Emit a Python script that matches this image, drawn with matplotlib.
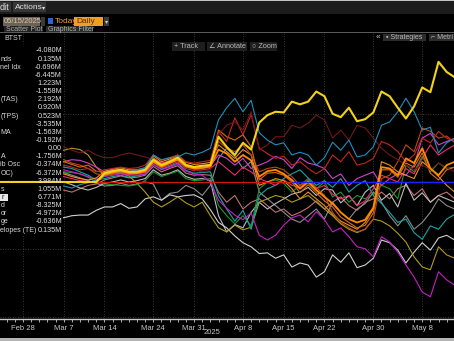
import numpy as np
import pandas as pd
import matplotlib
matplotlib.use("Agg")
import matplotlib.pyplot as plt
from matplotlib.patches import Rectangle

W, H = 454, 341
plt.rcParams['font.family'] = ['Liberation Sans', 'DejaVu Sans']

# ---- data -------------------------------------------------------------
dates = pd.bdate_range("2025-02-25", "2025-05-14")

tick_dates = ["2025-02-28", "2025-03-07", "2025-03-14", "2025-03-24", "2025-03-31",
              "2025-04-08", "2025-04-15", "2025-04-22", "2025-04-30", "2025-05-08",
              "2025-05-15"]
tick_labels = ["Feb 28", "Mar 7", "Mar 14", "Mar 24", "Mar 31", "Apr 8", "Apr 15",
               "Apr 22", "Apr 30", "May 8", "May 15"]

yellow = [0, 0, 0, 0, 0, 0, 0, 0, 0, 0, 0, 0, 0,
          1.3, 1.6, 1.8, 1.5, 1.5, 1.8, 3.3, 2.5, 3.0, 3.6, 2.5, 2.2, 2.4, 2.5,
          6.7, 5.2, 4.0, 5.8, 4.8, 8.8, 9.9, 10.4, 10.3, 11.9,
          11.5, 11.9, 13.4, 12.7, 10.1, 9.6, 11.0, 9.0, 9.3, 10.3,
          13.4, 12.7, 11.0, 9.4, 11.2, 14.0, 13.3, 17.8, 16.3, 15.5]
cyan = [0.2, 0.0, -0.3, 0.1, -0.2, -0.4, -0.6, -0.5,
        -0.6, -0.9, -0.4, -0.1, 0.3,
        0.9, 1.5, 1.5, 1.5, 1.8, 2.1, 4.0, 3.3, 3.6, 3.7, 4.3, 4.0, 4.4, 5.0,
        9.2, 11.0, 12.4, 10.4, 12.1,
        7.3, 6.2, 5.5, 5.8, 4.0,
        4.4, 4.0, 2.5, 3.6, 5.9, 4.7, 6.2, 3.7, 4.0, 5.2,
        8.4, 8.9, 10.4, 12.4, 10.4, 7.7, 8.1, 4.3, 5.8, 6.5]
maroon = [4.0, 4.5, 4.2, 4.8, 5.0, 4.6, 4.3, 4.8,
          5.2, 4.7, 4.3, 4.7, 4.0,
          3.6, 3.6, 4.0, 4.3, 4.0, 3.7, 3.3, 2.5, 3.0, 3.3, 2.1, 1.8, 1.5, 1.8,
          7.0, 8.4, 8.9, 7.7, 10.4,
          4.7, 5.5, 6.7, 6.7, 8.4,
          8.0, 8.7, 9.9, 9.2, 6.5, 7.7, 6.2, 8.4, 8.0, 6.5,
          5.0, 4.0, 3.3, 2.5, 1.8, 2.5, 1.8, 2.8, 2.1, 1.5]
red = [1.0, 1.5, 1.2, 2.0, 2.4, 2.0, 1.8, 2.2,
       2.5, 2.2, 1.8, 2.0, 1.5,
       1.8, 2.0, 2.2, 2.0, 2.1, 2.5, 4.0, 3.2, 3.6, 4.0, 3.0, 2.8, 3.0, 3.2,
       7.5, 6.0, 9.5, 7.0, 10.0,
       5.0, 4.2, 3.5, 3.8, 2.5,
       3.0, 2.0, 1.2, 2.0, 4.0, 3.0, 4.5, 2.5, 2.8, 3.5,
       6.0, 5.5, 4.5, 3.0, 4.0, 6.5, 5.8, 7.5, 6.5, 6.0]
orange_a = [1.5, 2.0, 2.5, 2.2, 3.0, 2.6, 2.4, 2.8,
            3.0, 2.6, 2.2, 2.5, 1.6,
            1.4, 1.7, 1.9, 1.6, 1.6, 1.9, 3.6, 2.7, 3.2, 3.8, 2.6, 2.3, 2.4, 2.6,
            7.7, 6.7, 6.2, 7.0, 5.2,
            0.3, 1.3, 1.4, 1.0, 0.0,
            -1.6, -0.4, -1.6, -2.8, -3.7, -5.2, -6.0, -6.8, -6.4, -4.6,
            1.8, 1.8, 0.7, 2.8, 2.2, 4.3, 1.3, 0.3, 1.8, 2.2]
orange_b = [2.5, 3.0, 2.8, 3.2, 3.5, 3.0, 2.9, 3.3,
            3.3, 2.8, 2.5, 2.0, 1.2,
            1.0, 1.2, 1.4, 1.3, 1.2, 1.5, 3.0, 2.2, 2.8, 3.3, 2.1, 1.8, 2.0, 2.2,
            6.0, 5.0, 4.5, 5.5, 4.0,
            1.5, 2.0, 2.2, 1.8, 0.8,
            -0.5, 0.2, -0.8, -2.0, -4.5, -6.0, -6.8, -7.4, -7.0, -5.5,
            0.5, 1.0, 3.0, 5.5, 4.5, 8.0, 7.5, 6.5, 6.8, 5.8]
orange_c = [0.5, 0.8, 0.6, 1.0, 1.4, 1.0, 0.7, 1.0,
            1.2, 0.8, 0.5, 0.3, 0.6,
            1.6, 1.9, 2.1, 1.8, 1.8, 2.1, 3.9, 3.0, 3.4, 4.0, 2.9, 2.6, 2.7, 2.9,
            5.5, 4.5, 3.5, 4.8, 4.0,
            -0.5, 0.0, 0.5, 0.2, -1.0,
            -2.5, -1.5, -2.5, -3.5, -4.8, -5.8, -6.4, -7.0, -6.0, -4.0,
            3.0, 2.5, 1.5, 1.0, 0.5, 3.0, 2.0, 0.8, -0.5, -1.5]
orange_d = [0, 0, 0, 0, 0, 0, 0, 0, 0, 0, 0, 0, 0,
            1.1, 1.4, 1.6, 1.3, 1.3, 1.6, 3.0, 2.3, 2.8, 3.3, 2.3, 2.0, 2.1, 2.3,
            4.8, 4.2, 3.0, 4.0, 3.2,
            0.8, 1.6, 1.8, 1.2, 0.3,
            -1.0, 0.0, -1.2, -2.2, -3.2, -4.5, -5.5, -6.0, -5.6, -3.8,
            2.2, 2.0, 1.0, 3.5, 2.8, 5.0, 2.0, 1.0, 2.5, 3.0]
magenta_a = [2.0, 2.5, 2.8, 3.0, 3.2, 2.8, 3.0, 3.3,
             3.0, 3.3, 3.2, 2.8, 2.2,
             1.5, 1.8, 1.7, 1.4, 1.6, 1.9, 3.4, 2.8, 3.0, 3.4, 2.4, 2.0, 2.2, 2.4,
             4.0, 3.5, 2.5, 3.5, 2.0,
             2.5, 3.0, 3.8, 3.3, 2.0,
             3.6, 2.8, 2.5, 2.0, 0.5, 1.2, -0.5, 0.5, 1.0, 1.5,
             -0.5, 0.5, 1.2, 1.0, 2.5, 6.5, 7.2, 5.5, 6.0, 6.5]
magenta_b = [1.0, 1.5, 1.8, 2.0, 2.2, 1.8, 1.5, 1.6,
             1.8, 1.5, 1.2, 0.8, 0.4,
             0.8, 1.0, 1.2, 1.0, 1.0, 1.2, 2.6, 1.8, 2.2, 2.6, 1.6, 1.2, 1.0, 0.0,
             -2.7, -3.9, -4.9, -5.6, -4.6,
             -7.9, -8.6, -7.9, -6.4, -5.3,
             -4.9, -5.9, -4.4, -5.6, -7.4, -6.8, -8.1, -9.6, -9.9, -11.1,
             -8.1, -8.9, -10.4, -12.3, -14.1, -16.3, -17.0, -13.3, -14.5, -15.3]
white = [-4.0, -4.5, -4.2, -4.8, -5.0, -4.6, -4.4, -4.9,
         -5.3, -5.0, -4.9, -4.9, -4.2,
         -3.7, -3.7, -3.2, -3.9, -3.7, -2.5, -2.2, -2.7, -1.9, -2.2, -2.0, -1.9, -2.5, -4.1,
         -6.0, -6.8, -8.0, -9.0, -9.6,
         -10.6, -10.5, -11.3, -10.8, -12.6,
         -12.0, -12.3, -14.1, -13.3, -10.8, -11.9, -10.5, -12.7, -12.3, -11.3,
         -8.6, -9.0, -10.1, -12.0, -10.4, -9.0, -10.1, -8.3, -7.9, -8.6]
gray = [-0.5, -0.2, 0.3, 0.0, -0.3, 0.2, 0.0, 0.1,
        0.0, -0.4, -0.9, -1.2, -0.8,
        -0.2, 0.0, 0.3, 0.0, 0.2, 0.5, 1.8, 1.0, 1.3, 1.8, 0.8, 0.4, 0.5, 0.2,
        -5.0, -7.4, -6.3, -6.8, -4.5,
        -3.0, -4.0, -3.2, -2.5, -1.8,
        -1.5, -0.8, -2.0, -1.0, -1.2, -3.1, -2.0, -3.5, -1.5, -0.5,
        -2.7, -1.7, -3.7, -0.2, -2.7, -1.6, -3.0, -2.0, -2.5, -3.0]
gray2 = [1.2, 1.0, 1.5, 1.8, 1.4, 1.1, 1.3, 1.6,
         1.4, 1.0, 0.6, 0.2, -0.2,
         -0.6, -0.5, -0.2, -0.5, -0.3, 0.0, -0.3, -2.7, -1.7, -1.5, -0.5, -1.0, -2.0, -0.5,
         3.5, 5.0, 3.8, 2.0, 3.0,
         -1.5, -2.5, -3.5, -4.5, -5.5,
         -6.0, -5.0, -4.0, -5.5, -3.0, -4.5, -5.5, -4.0, -3.2, -1.5,
         -3.0, -5.0, -6.5, -5.0, -7.0, -6.0, -4.5, -2.5, -3.5, -4.0]
olive = [3.5, 4.0, 3.8, 4.3, 4.6, 4.2, 4.0, 4.5,
         4.7, 5.0, 4.8, 4.0, 2.2,
         1.0, 1.2, 1.3, 0.9, -0.2, -1.5, -3.0, -3.7, -3.0, -2.2, -3.1, -3.7, -3.0, -5.0,
         -6.8, -7.4, -6.4, -7.1, -6.7,
         -3.0, -2.5, -2.0, -2.3, -3.0,
         -2.5, -2.0, -3.0, -4.0, -5.0, -6.2, -7.0, -7.5, -7.0, -5.5,
         -5.8, -6.5, -7.6, -8.9, -11.1, -12.6, -13.0, -9.6, -10.8, -11.3]
green = [1.0, 1.3, 1.6, 1.4, 1.8, 1.5, 1.2, 1.6,
         1.5, 1.4, 1.2, 0.7, 0.0,
         -0.3, -0.4, -0.5, -0.6, -0.4, 0.2, 1.5, 0.8, 1.2, 1.6, 0.5, 0.2, 0.3, 0.5,
         -3.5, -5.0, -6.2, -5.0, -6.5,
         -1.0, 0.0, 0.3, -0.2, -1.5,
         -0.5, 0.5, -1.0, 0.0, -2.2, -1.5, -3.0, -2.0, -2.5, -1.8,
         -0.5, -1.0, -2.5, 2.5, 1.5, 3.8, 1.5, 2.8, 2.0, 2.2]
teal = [1.5, 2.0, 2.2, 2.6, 2.4, 2.2, 2.0, 2.3,
        2.2, 2.0, 1.5, 1.0, 0.3,
        0.5, 0.8, 1.0, 0.7, 0.9, 1.2, 2.6, 1.9, 2.3, 2.8, 1.7, 1.3, 1.4, 1.5,
        -2.0, -4.0, -5.8, -4.2, -7.0,
        -2.0, -1.0, -0.5, 0.5, 1.2,
        1.8, 0.6, -0.5, 0.2, -0.8, 0.5, -1.5, -0.5, 0.2, -2.0,
        -3.2, -4.5, -6.0, -5.5, -7.5, -8.5, -6.5, -7.0, -5.5, -4.8]
pink = [-1.0, -0.8, -1.2, -1.5, -1.0, -1.3, -1.6, -1.4,
        -1.2, -1.5, -1.0, -0.5, -0.3,
        0.3, 0.6, 0.9, 0.6, 0.7, 1.0, 2.3, 1.5, 2.0, 2.4, 1.3, 1.0, 1.1, 1.0,
        -1.5, -3.0, -2.0, -4.0, -3.0,
        -2.5, -3.5, -4.5, -4.0, -5.0,
        -4.5, -3.8, -2.8, -4.0, -3.0, -2.2, -3.5, -4.2, -3.0, -2.5,
        -1.5, -2.5, -1.0, -0.5, -2.0, -1.0, -3.0, -2.0, -1.5, -2.5]
hot_pink = [0.5, 0.3, 0.8, 1.0, 0.6, 0.4, 0.7, 0.9,
            0.8, 0.5, 0.2, 0.1, 0.0,
            0.9, 1.2, 1.4, 1.1, 1.2, 1.4, 2.9, 2.1, 2.5, 3.0, 2.0, 1.7, 1.8, 2.0,
            3.0, 2.0, 1.0, 2.2, 1.5,
            0.5, 0.0, -0.5, 0.3, -0.5,
            -0.8, 0.2, -1.0, -0.5, -1.8, -2.5, -2.0, -3.5, -2.8, -1.0,
            1.0, 0.5, 0.0, 2.0, 1.2, 3.5, 5.5, 4.0, 4.8, 5.5]

blue_start = "2025-04-16"   # flat 0.00 series shows from here on

legend_labels = ["", "nds", "nel Idx", "", "", "", "(TAS)", "", "(TPS)", "", "MA", "",
                 "", "A", "ib Osc", "OC)", "", "s", "r", "d", "or", "ge", "elopes (TE)"]
legend_values = ["-4.080M", "0.135M", "-0.696M", "-6.445M", "1.223M", "-1.558M",
                 "2.192M", "0.920M", "0.523M", "-3.535M", "-1.563M", "-0.192M", "0.00",
                 "-1.756M", "-0.374M", "-6.372M", "3.984M", "1.055M", "6.771M",
                 "-8.325M", "-4.972M", "-0.636M", "0.135M"]

# series drawn in order (thin ones first)
thin = [(pink, "#c07070"), (gray2, "#8c8c8c"), (gray, "#bdbdbd"), (white, "#d0d0d0"),
        (olive, "#b09a1c"), (green, "#1c962c"), (teal, "#18a4a4"),
        (magenta_b, "#c81ec8"), (magenta_a, "#d040d0"), (hot_pink, "#f0286e"),
        (orange_c, "#e8902a"), (orange_b, "#b84c12"), (orange_a, "#e06a10"),
        (red, "#c0281e"), (maroon, "#701818"), (cyan, "#1e8fbc")]

# ---- figure -----------------------------------------------------------
fig = plt.figure(figsize=(W / 100, H / 100), dpi=100, facecolor="black")
ax = fig.add_axes([0, (H - 319) / H, 1, (319 - 33) / H])
ax.set_facecolor("black")

x = np.arange(len(dates))
for vals, col in thin:
    ax.plot(x, vals, color=col, lw=0.8, zorder=2)

ax.axhline(0, color="#d0180c", lw=0.9, zorder=2.8)
xb = x[dates >= pd.Timestamp(blue_start)]
ax.plot(xb, np.zeros(len(xb)), color="#2020ff", lw=0.9, zorder=3.6)
ax.plot(x, orange_d, color="#ff8a00", lw=1.3, zorder=3.5)
ax.plot(x, yellow, color="#f4d21a", lw=1.5, zorder=5)

# legend panel covers the left part of the lines
ax.add_patch(Rectangle((0, 1 - 235 / H), 63 / W, (235 - 44) / H, transform=fig.transFigure,
                       facecolor="black", edgecolor="none", zorder=3, clip_on=False))

tick_pos = [np.busday_count("2025-02-25", d) for d in tick_dates]
ax.set_xticks(tick_pos)
ax.set_xticklabels(tick_labels)
ax.set_xticks(x, minor=True)
ax.set_xlim(0.18, 55.9)
ax.set_ylim(-20.3, 22.07)
ax.set_yticks([-20, -10, 0, 10])
ax.tick_params(axis="x", which="both", colors="#c8c8c8", length=2, width=0.6,
               labelsize=5.5, pad=2)
ax.tick_params(axis="y", left=False, labelleft=False)
ax.grid(True, which="major", color="#4a4a4a", lw=0.6, ls=(0, (1, 2)))
for s in ["top", "right", "left"]:
    ax.spines[s].set_visible(False)
ax.spines["bottom"].set_color("#c8c8c8")
ax.spines["bottom"].set_linewidth(1)


def box(x0, y0, w, h, color, z=4):
    fig.add_artist(Rectangle((x0 / W, 1 - (y0 + h) / H), w / W, h / H,
                             transform=fig.transFigure, facecolor=color,
                             edgecolor="none", zorder=z))


def txt(x0, y0, s, color="#c8c8c8", size=5.5, ha="left", **kw):
    fig.text(x0 / W, 1 - y0 / H, s, color=color, fontsize=size, ha=ha,
             va="center", zorder=6, **kw)


fig.text(212 / W, 1 - 333 / H, "2025", color="#c8c8c8", fontsize=5.5, ha="center",
         va="center")

# top toolbars
box(0, 0, W, 14, "#1c1c1c")
box(0, 0, W, 1.2, "#c4c4c4")
box(-2, 2, 13, 10, "#363636")
txt(0, 7.5, "dit", color="#e0e0e0", size=6.5)
box(13, 2, 33, 10, "#363636")
txt(14.5, 7.5, "Actions", color="#e0e0e0", size=6)
txt(41.5, 7.5, "▾", color="#e0e0e0", size=4.5)
box(3, 17, 37, 9, "#6c6256")
txt(4, 21.5, "05/15/2025", color="#d6c6ae", size=5.5)
box(41, 17, 4, 9, "#3a3a3a")
box(48, 18, 5, 6, "#2a64d4")
txt(55, 21.5, "Today", color="#f0a030", size=6)
box(74, 17, 29, 9, "#f0a020")
txt(76, 21.5, "Daily", color="#5a3000", size=6)
box(104, 17, 5, 9, "#3a3a3a")
txt(104.5, 21.5, "▾", color="#d0d0d0", size=4.5)
box(4, 26, 39, 7, "#222222")
txt(6, 29.5, "Scatter Plot", color="#b0b0b0", size=5)
box(46, 26, 47, 7, "#2c2c2c")
txt(48, 29.5, "Graphics Filter", color="#b0b0b0", size=5)
box(0, 32, W, 1, "#5a5a5a")
txt(4, 38, "BTST", color="#d8d8d8", size=5)
txt(376, 37.5, "«", color="#d0d0d0", size=6)
box(383, 34, 43, 7, "#2c2c2c")
txt(386, 37.5, "▪ Strategies", color="#b8b8b8", size=5)
box(429, 34, 30, 7, "#2c2c2c")
txt(431, 37.5, "⌐ Metri", color="#b8b8b8", size=5)

box(172, 42, 33, 9, "#1e1e1e")
txt(174, 46.5, "+ Track", color="#b8b8b8", size=5.2)
box(207, 42, 40, 9, "#1e1e1e")
txt(209, 46.5, "∠ Annotate", color="#b8b8b8", size=5.2)
box(250, 42, 27, 9, "#1e1e1e")
txt(252, 46.5, "○ Zoom", color="#b8b8b8", size=5.2)

# legend rows
for i, (lab, val) in enumerate(zip(legend_labels, legend_values)):
    yy = 51 + i * 8.14
    if lab == "r":
        box(0, yy - 3.5, 8, 7, "#e8e8e8", z=5)
        txt(1, yy, lab, color="#101010", size=5)
    elif lab:
        txt(0.5, yy, lab, color="#d8d8d8", size=5)
    txt(62, yy, val, color="#e0e0e0", size=5.2, ha="right")

box(0, 338, W, 3, "#b4b4b4")

fig.savefig("out.png", dpi=100, facecolor="black")
